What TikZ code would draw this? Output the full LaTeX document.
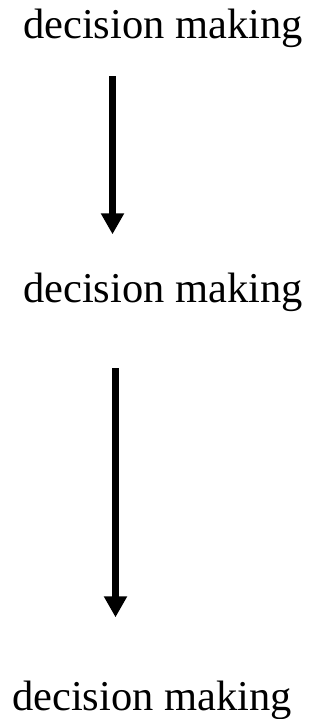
\documentclass[tikz,border=0pt]{standalone}
\usepackage{fontspec}
\setmainfont{Liberation Serif}
\usepackage{tikz}
\usetikzlibrary{arrows.meta,positioning}

\begin{document}
\begin{tikzpicture}[
  x=1pt, y=-1pt,
  label/.style={inner sep=0pt, anchor=base, font=\fontsize{42.5}{50}\selectfont},
  arr/.style={-{Triangle[length=21pt, width=22pt]}, line width=7pt}
]
\useasboundingbox (0,0) rectangle (327,719);

% Stages
\node[label] (dm1) at (163,39) {decision making};
\node[label] (dm2) at (163,302) {decision making};
\node[label] (dm3) at (152,710) {decision making};

% Arrows
\draw[arr, shorten <=28pt, shorten >=38pt] ([xshift=-50.5pt]dm1.south) -- ([xshift=-50.5pt]dm1.south |- dm2.north);
\draw[arr, shorten <=57pt, shorten >=63pt] ([xshift=-47.5pt]dm2.south) -- ([xshift=-47.5pt]dm2.south |- dm3.north);

\end{tikzpicture}
\end{document}
